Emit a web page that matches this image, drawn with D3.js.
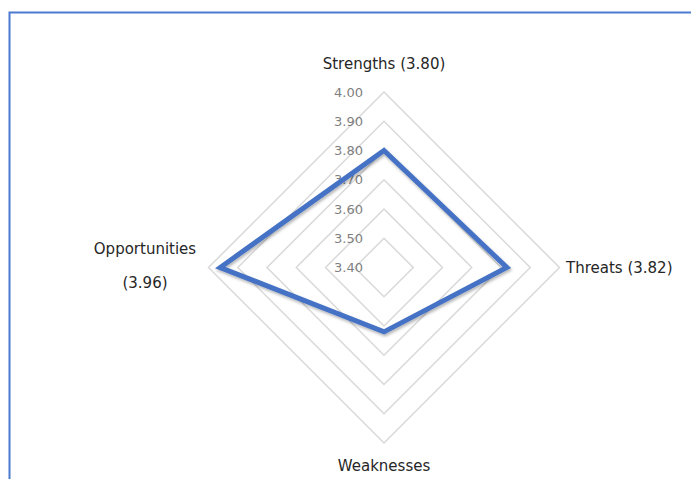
<!DOCTYPE html>
<html>
<head>
<meta charset="utf-8">
<script src="https://cdn.jsdelivr.net/npm/d3@7"></script>
<style>
  body { margin: 0; background: #fff; }
  svg { display: block; font-family: "DejaVu Sans", sans-serif; }
</style>
</head>
<body>
<svg id="radar" width="691" height="479"></svg>
<script>
const axes = ["Strengths", "Threats", "Weaknesses", "Opportunities"];
const scores = [3.80, 3.82, 3.62, 3.96];
const ticks = [3.40, 3.50, 3.60, 3.70, 3.80, 3.90, 4.00];

const svg = d3.select("#radar");
const cx = 384, cy = 267.5, radius = 175.5;

// frame like the screenshot border
svg.append("path")
    .attr("d", "M9.5,479 V12.5 H691")
    .attr("fill", "none")
    .attr("stroke", "#4a7bd0")
    .attr("stroke-width", 2);

const r = d3.scaleLinear().domain([3.40, 4.00]).range([0, radius]);
const angle = i => i * Math.PI * 2 / axes.length;

const defs = svg.append("defs");
const f = defs.append("filter").attr("id", "shadow")
    .attr("x", "-20%").attr("y", "-20%").attr("width", "140%").attr("height", "140%");
f.append("feDropShadow").attr("dx", 1).attr("dy", 2).attr("stdDeviation", 1.5)
    .attr("flood-color", "#000").attr("flood-opacity", 0.3);

const g = svg.append("g").attr("transform", `translate(${cx},${cy})`);

const radial = d3.lineRadial()
    .angle((d, i) => angle(i))
    .radius(d => r(d))
    .curve(d3.curveLinearClosed);

// grid rings
g.append("g")
    .selectAll("path")
    .data(ticks.slice(1))
    .enter().append("path")
    .attr("d", t => radial(axes.map(() => t)))
    .attr("fill", "none")
    .attr("stroke", "#d9d9d9")
    .attr("stroke-width", 1.5);

// tick labels
g.append("g")
    .selectAll("text")
    .data(ticks)
    .enter().append("text")
    .attr("x", -21)
    .attr("y", t => -r(t))
    .attr("dy", "0.35em")
    .attr("text-anchor", "end")
    .attr("fill", "#7f7f7f")
    .attr("font-size", 13)
    .text(t => d3.format(".2f")(t));

// data shape
g.append("path")
    .datum(scores)
    .attr("d", radial)
    .attr("fill", "none")
    .attr("stroke", "#4472c4")
    .attr("stroke-width", 5)
    .attr("stroke-linejoin", "miter")
    .attr("filter", "url(#shadow)");

// category labels
const lab = svg.append("g")
    .attr("font-size", 15)
    .attr("fill", "#262626");

lab.append("text").attr("x", cx).attr("y", 64).attr("dy", "0.35em")
    .attr("text-anchor", "middle")
    .text(`${axes[0]} (${d3.format(".2f")(scores[0])})`);
lab.append("text").attr("x", 566).attr("y", 268).attr("dy", "0.35em")
    .text(`${axes[1]} (${d3.format(".2f")(scores[1])})`);
lab.append("text").attr("x", cx).attr("y", 466).attr("dy", "0.35em")
    .attr("text-anchor", "middle")
    .text(axes[2]);
lab.append("text").attr("x", 145).attr("y", 249).attr("dy", "0.35em")
    .attr("text-anchor", "middle")
    .text(axes[3]);
lab.append("text").attr("x", 145).attr("y", 283).attr("dy", "0.35em")
    .attr("text-anchor", "middle")
    .text(`(${d3.format(".2f")(scores[3])})`);
</script>
</body>
</html>
